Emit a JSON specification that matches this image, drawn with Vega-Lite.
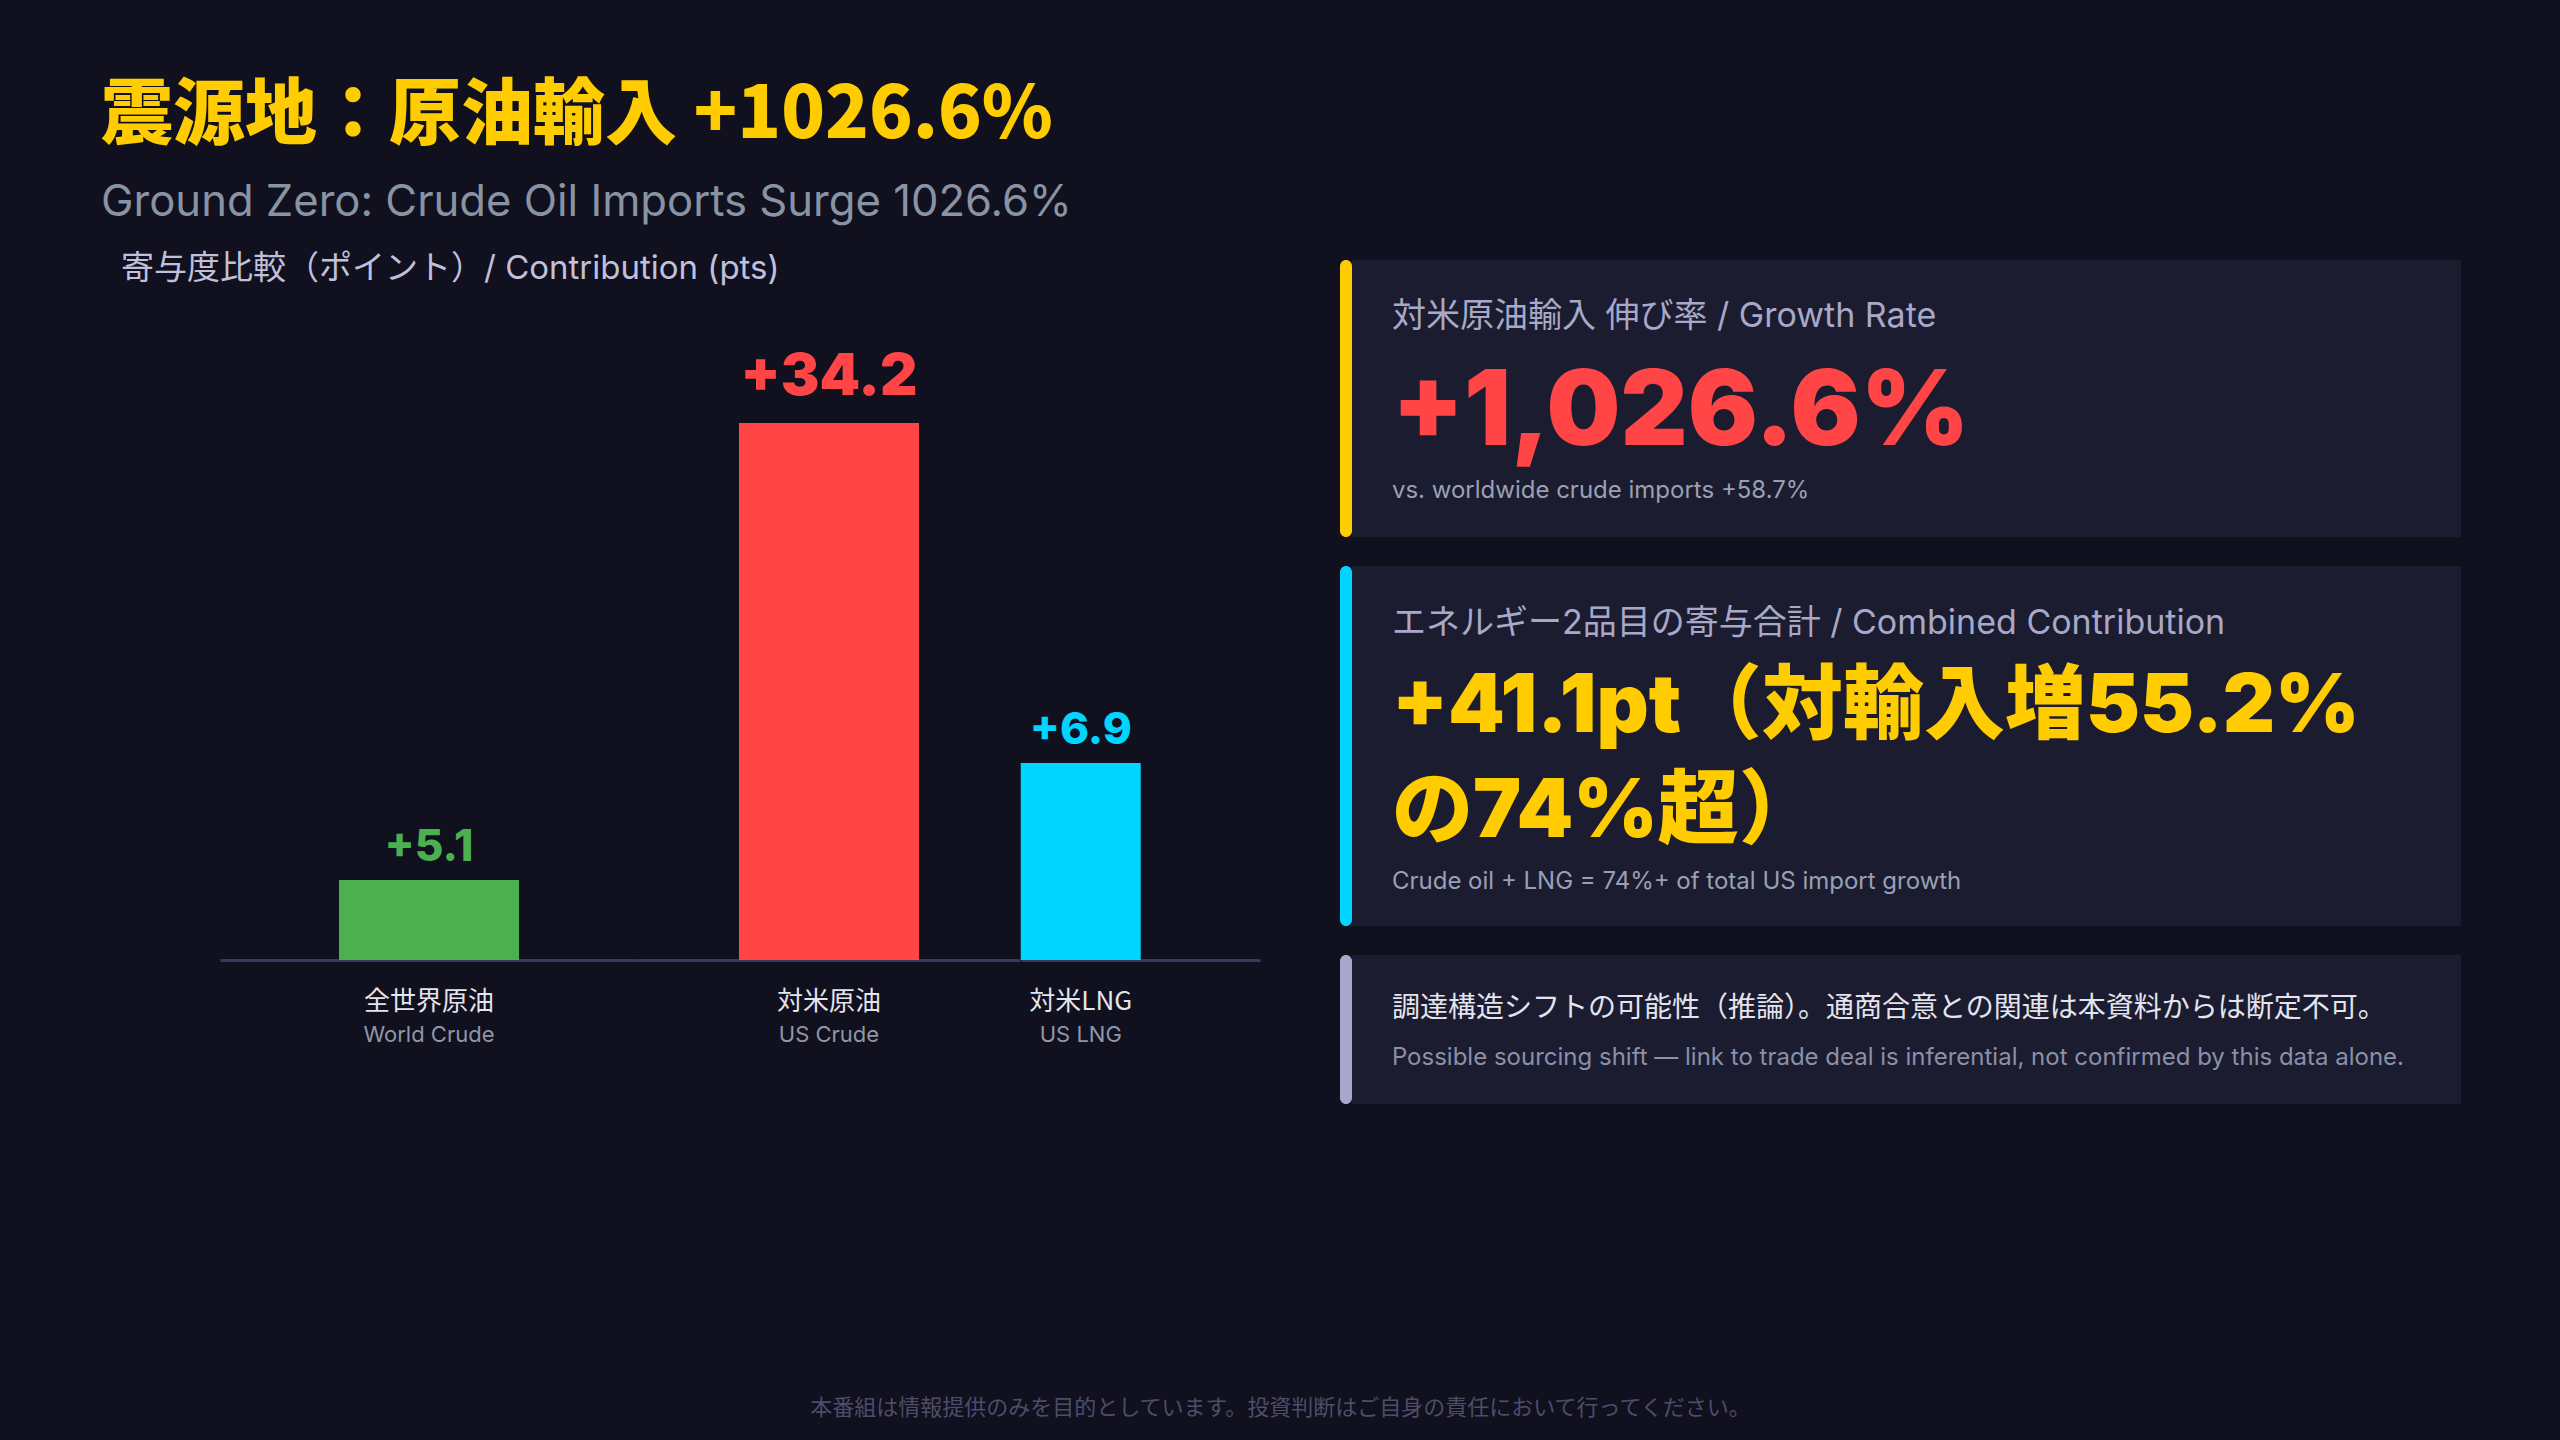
{
  "$schema": "https://vega.github.io/schema/vega-lite/v6.json",
  "background": "#10101e",
  "padding": {"left": 101, "top": 80, "right": 100, "bottom": 20},
  "title": {
    "text": "震源地：原油輸入 +1026.6%",
    "subtitle": "Ground Zero: Crude Oil Imports Surge 1026.6%",
    "anchor": "start",
    "font": "Noto Sans CJK JP",
    "fontSize": 72,
    "fontWeight": 900,
    "color": "#ffcc00",
    "subtitleFont": "Inter, Noto Sans CJK JP",
    "subtitleFontSize": 43.6,
    "subtitleFontWeight": "normal",
    "subtitleColor": "#8893a4",
    "subtitlePadding": 29,
    "offset": 27
  },
  "datasets": {
    "bars": [
      {"jp": "全世界原油", "en": "World Crude", "pts": 5.1},
      {"jp": "対米原油", "en": "US Crude", "pts": 34.2},
      {"jp": "対米LNG", "en": "US LNG", "pts": 6.9}
    ],
    "cards": [
      {"card": "rate", "part": "head", "text": "対米原油輸入 伸び率 / Growth Rate"},
      {"card": "rate", "part": "big", "text": "+1,026.6%"},
      {"card": "rate", "part": "note", "text": "vs. worldwide crude imports +58.7%"},
      {"card": "combined", "part": "head", "text": "エネルギー2品目の寄与合計 / Combined Contribution"},
      {"card": "combined", "part": "big", "text": "+41.1pt（対輸入増55.2%\nの74%超）"},
      {"card": "combined", "part": "note", "text": "Crude oil + LNG = 74%+ of total US import growth"},
      {"card": "caveat", "part": "head", "text": "調達構造シフトの可能性（推論）。通商合意との関連は本資料からは断定不可。"},
      {"card": "caveat", "part": "note", "text": "Possible sourcing shift — link to trade deal is inferential, not confirmed by this data alone."}
    ],
    "footer": [
      {"text": "本番組は情報提供のみを目的としています。投資判断はご自身の責任において行ってください。"}
    ]
  },
  "vconcat": [
    {
      "hconcat": [
        {
          "title": {
            "text": "寄与度比較（ポイント）/ Contribution (pts)",
            "anchor": "start",
            "dx": 20,
            "font": "Inter, Noto Sans CJK JP",
            "fontSize": 33,
            "fontWeight": "normal",
            "color": "#c0c0dc",
            "offset": -26
          },
          "hconcat": [
            {
              "width": 119,
              "height": 700,
              "data": {"values": [{}]},
              "mark": {"type": "text", "text": ""}
            },
            {
              "width": 418,
              "height": 700,
              "data": {"name": "bars"},
              "transform": [{"filter": "datum.en === 'World Crude'"}],
              "encoding": {
                "x": {
                  "field": "jp",
                  "type": "nominal",
                  "axis": {
                    "title": null, "ticks": false, "labelAngle": 0, "labelPadding": 28,
                    "labelFont": "Noto Sans CJK JP", "labelFontSize": 26, "labelColor": "#e4e4ee",
                    "domainColor": "#3a3a5c", "domainWidth": 3
                  }
                },
                "y": {"field": "pts", "type": "quantitative", "scale": {"domain": [0, 44.58]}, "axis": null}
              },
              "layer": [
                {"mark": {"type": "bar", "width": 180, "color": "#4caf50"}},
                {
                  "mark": {"type": "text", "baseline": "alphabetic", "dy": -19, "font": "Inter", "fontSize": 44, "fontWeight": 800, "color": "#4caf50"},
                  "encoding": {"text": {"field": "pts", "type": "quantitative", "format": "+.1f"}}
                },
                {
                  "mark": {"type": "text", "baseline": "alphabetic", "dy": 82, "font": "Inter", "fontSize": 22, "color": "#9096a8"},
                  "encoding": {"y": {"datum": 0}, "text": {"field": "en"}}
                }
              ]
            },
            {
              "width": 382,
              "height": 700,
              "data": {"name": "bars"},
              "transform": [{"filter": "datum.en === 'US Crude'"}],
              "encoding": {
                "x": {
                  "field": "jp",
                  "type": "nominal",
                  "axis": {
                    "title": null, "ticks": false, "labelAngle": 0, "labelPadding": 28,
                    "labelFont": "Noto Sans CJK JP", "labelFontSize": 26, "labelColor": "#e4e4ee",
                    "domainColor": "#3a3a5c", "domainWidth": 3
                  }
                },
                "y": {"field": "pts", "type": "quantitative", "scale": {"domain": [0, 44.58]}, "axis": null}
              },
              "layer": [
                {"mark": {"type": "bar", "width": 180, "color": "#ff4545"}},
                {
                  "mark": {"type": "text", "baseline": "alphabetic", "dy": -28, "font": "Inter", "fontSize": 58, "fontWeight": 900, "color": "#ff4545"},
                  "encoding": {"text": {"field": "pts", "type": "quantitative", "format": "+.1f"}}
                },
                {
                  "mark": {"type": "text", "baseline": "alphabetic", "dy": 82, "font": "Inter", "fontSize": 22, "color": "#9096a8"},
                  "encoding": {"y": {"datum": 0}, "text": {"field": "en"}}
                }
              ]
            },
            {
              "width": 239,
              "height": 700,
              "data": {"name": "bars"},
              "transform": [{"filter": "datum.en === 'US LNG'"}],
              "encoding": {
                "x": {
                  "field": "jp",
                  "type": "nominal",
                  "scale": {"paddingInner": 0, "paddingOuter": 0.5, "align": 0},
                  "axis": {
                    "title": null, "ticks": false, "labelAngle": 0, "labelPadding": 28,
                    "labelFont": "Noto Sans CJK JP", "labelFontSize": 26, "labelColor": "#e4e4ee",
                    "domainColor": "#3a3a5c", "domainWidth": 3
                  }
                },
                "y": {"field": "pts", "type": "quantitative", "scale": {"domain": [0, 24.52]}, "axis": null}
              },
              "layer": [
                {"mark": {"type": "bar", "width": 120, "color": "#00d4ff"}},
                {
                  "mark": {"type": "text", "baseline": "alphabetic", "dy": -19, "font": "Inter", "fontSize": 44, "fontWeight": 800, "color": "#00d4ff"},
                  "encoding": {"text": {"field": "pts", "type": "quantitative", "format": "+.1f"}}
                },
                {
                  "mark": {"type": "text", "baseline": "alphabetic", "dy": 82, "font": "Inter", "fontSize": 22, "color": "#9096a8"},
                  "encoding": {"y": {"datum": 0}, "text": {"field": "en"}}
                }
              ]
            }
          ],
          "spacing": 0
        },
        {
          "vconcat": [
            {
              "hconcat": [
                {
                  "width": 12,
                  "height": 277,
                  "view": {"fill": "#ffcc00", "stroke": null, "cornerRadius": 6},
                  "data": {"values": [{}]},
                  "mark": {"type": "text", "text": ""}
                },
                {
                  "width": 1109,
                  "height": 277,
                  "view": {"fill": "#1b1c2f", "stroke": null},
                  "data": {"name": "cards"},
                  "transform": [{"filter": "datum.card === 'rate'"}],
                  "encoding": {
                    "x": {"field": "card", "type": "nominal", "scale": {"type": "point", "align": 0.036}, "axis": null},
                    "y": {"field": "part", "type": "nominal", "scale": {"type": "point", "domain": ["head", "big", "note"], "padding": 0.597, "align": 0.554}, "axis": null},
                    "text": {"field": "text"}
                  },
                  "layer": [
                    {
                      "transform": [{"filter": "datum.part === 'head'"}],
                      "mark": {"type": "text", "align": "left", "baseline": "middle", "font": "Inter, Noto Sans CJK JP", "fontSize": 34, "color": "#a8a8c8"}
                    },
                    {
                      "transform": [{"filter": "datum.part === 'big'"}],
                      "mark": {"type": "text", "align": "left", "baseline": "middle", "dy": 10, "font": "Inter, Noto Sans CJK JP", "fontSize": 104, "fontWeight": 900, "color": "#ff4545"}
                    },
                    {
                      "transform": [{"filter": "datum.part === 'note'"}],
                      "mark": {"type": "text", "align": "left", "baseline": "middle", "font": "Inter, Noto Sans CJK JP", "fontSize": 24, "color": "#9aa0b4"}
                    }
                  ]
                }
              ],
              "spacing": 0
            },
            {
              "hconcat": [
                {
                  "width": 12,
                  "height": 360,
                  "view": {"fill": "#00d4ff", "stroke": null, "cornerRadius": 6},
                  "data": {"values": [{}]},
                  "mark": {"type": "text", "text": ""}
                },
                {
                  "width": 1109,
                  "height": 360,
                  "view": {"fill": "#1b1c2f", "stroke": null},
                  "data": {"name": "cards"},
                  "transform": [{"filter": "datum.card === 'combined'"}],
                  "encoding": {
                    "x": {"field": "card", "type": "nominal", "scale": {"type": "point", "align": 0.036}, "axis": null},
                    "y": {"field": "part", "type": "nominal", "scale": {"type": "point", "domain": ["head", "big", "note"], "padding": 0.399, "align": 0.569}, "axis": null},
                    "text": {"field": "text"}
                  },
                  "layer": [
                    {
                      "transform": [{"filter": "datum.part === 'head'"}],
                      "mark": {"type": "text", "align": "left", "baseline": "middle", "font": "Inter, Noto Sans CJK JP", "fontSize": 34, "color": "#a8a8c8"}
                    },
                    {
                      "transform": [{"filter": "datum.part === 'big'"}],
                      "mark": {"type": "text", "align": "left", "baseline": "middle", "dy": -45, "lineBreak": "\n", "lineHeight": 105, "font": "Inter, Noto Sans CJK JP", "fontSize": 81, "fontWeight": 900, "color": "#ffcc00"}
                    },
                    {
                      "transform": [{"filter": "datum.part === 'note'"}],
                      "mark": {"type": "text", "align": "left", "baseline": "middle", "font": "Inter, Noto Sans CJK JP", "fontSize": 24, "color": "#9aa0b4"}
                    }
                  ]
                }
              ],
              "spacing": 0
            },
            {
              "hconcat": [
                {
                  "width": 12,
                  "height": 149,
                  "view": {"fill": "#a8a8cc", "stroke": null, "cornerRadius": 6},
                  "data": {"values": [{}]},
                  "mark": {"type": "text", "text": ""}
                },
                {
                  "width": 1109,
                  "height": 149,
                  "view": {"fill": "#1b1c2f", "stroke": null},
                  "data": {"name": "cards"},
                  "transform": [{"filter": "datum.card === 'caveat'"}],
                  "encoding": {
                    "x": {"field": "card", "type": "nominal", "scale": {"type": "point", "align": 0.036}, "axis": null},
                    "y": {"field": "part", "type": "nominal", "scale": {"type": "point", "domain": ["head", "note"], "padding": 1.148, "align": 0.539}, "axis": null},
                    "text": {"field": "text"}
                  },
                  "layer": [
                    {
                      "transform": [{"filter": "datum.part === 'head'"}],
                      "mark": {"type": "text", "align": "left", "baseline": "middle", "font": "Noto Sans CJK JP", "fontSize": 28, "color": "#e4e4ee"}
                    },
                    {
                      "transform": [{"filter": "datum.part === 'note'"}],
                      "mark": {"type": "text", "align": "left", "baseline": "middle", "font": "Inter, Noto Sans CJK JP", "fontSize": 24, "color": "#8a90a8"}
                    }
                  ]
                }
              ],
              "spacing": 0
            }
          ],
          "spacing": 29
        }
      ],
      "spacing": 80
    },
    {
      "width": 2359,
      "height": 30,
      "data": {"name": "footer"},
      "mark": {"type": "text", "font": "Noto Sans CJK JP", "fontSize": 22, "color": "#4d4d6a"},
      "encoding": {"text": {"field": "text"}}
    }
  ],
  "spacing": 289,
  "config": {
    "view": {"stroke": null},
    "font": "Noto Sans CJK JP",
    "axis": {"grid": false}
  }
}
